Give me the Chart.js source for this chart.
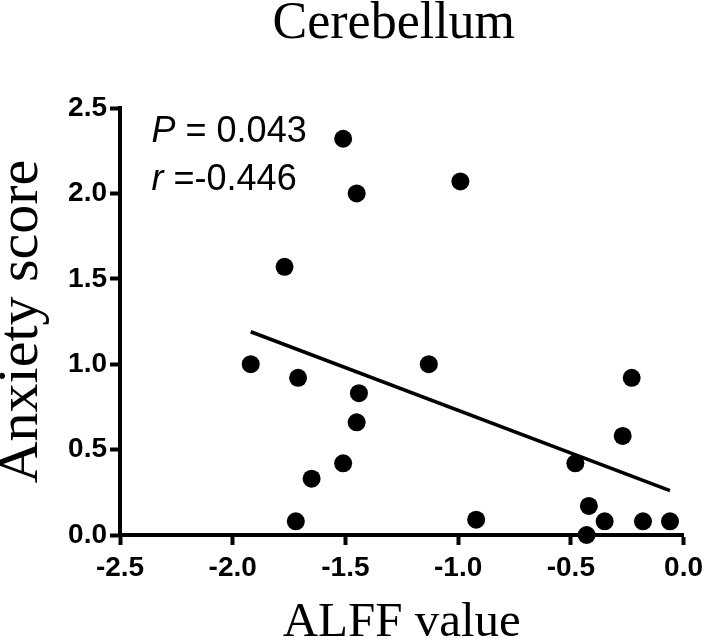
<!DOCTYPE html>
<html>
<head>
<meta charset="utf-8">
<script src="https://cdn.jsdelivr.net/npm/chart.js@4/dist/chart.umd.min.js"></script>
<style>
  html, body { margin: 0; padding: 0; background: #fff; }
  #wrap { width: 709px; height: 641px; position: relative; }
</style>
</head>
<body>
<div id="wrap"><canvas id="plot"></canvas></div>
<script>
// values
const alffValues = [-1.92, -1.77, -1.51, -1.45, -1.71, -1.44, -1.45, -1.51, -1.65, -1.72,
  -0.99, -1.13, -0.23, -0.27, -0.48, -0.42, -0.92, -0.35, -0.18, -0.06, -0.43];
const anxietyScores = [1.00, 1.57, 2.32, 2.00, 0.92, 0.83, 0.66, 0.42, 0.33, 0.08,
  2.07, 1.00, 0.92, 0.58, 0.42, 0.17, 0.09, 0.08, 0.08, 0.08, 0.00];
const fitX = [-1.92, -0.06];
const fitY = [1.19, 0.26];
const xTicks = [-2.5, -2.0, -1.5, -1.0, -0.5, 0.0];
const yTicks = [0.0, 0.5, 1.0, 1.5, 2.0, 2.5];
const statLines = [["P", " = 0.043"], ["r", " =-0.446"]];

const serif = "'Liberation Serif', 'Times New Roman', serif";
const sans = "'Liberation Sans', Arial, sans-serif";

const headline = {
  id: "headline",
  afterDraw(chart) {
    const { ctx, chartArea } = chart;
    ctx.save();
    ctx.fillStyle = "#000";
    ctx.font = `52px ${serif}`;
    ctx.textAlign = "center";
    ctx.textBaseline = "alphabetic";
    ctx.fillText("Cerebellum", (chartArea.left + chartArea.right) / 2 - 8, 38);

    // P and r annotation, anchored to the data scales
    const x0 = chart.scales.x.getPixelForValue(-2.36);
    const baselines = [2.30, 2.02].map((v) => chart.scales.y.getPixelForValue(v));
    ctx.textAlign = "left";
    statLines.forEach(([sym, rest], i) => {
      ctx.font = `italic 36px ${sans}`;
      ctx.fillText(sym, x0, baselines[i]);
      const w = ctx.measureText(sym).width;
      ctx.font = `36px ${sans}`;
      ctx.fillText(rest, x0 + w, baselines[i]);
    });
    ctx.restore();
  }
};

const axisLook = {
  border: { display: true, color: "#000", width: 4 },
  grid: { display: true, drawOnChartArea: false, drawTicks: true, tickLength: 10, tickWidth: 4, tickColor: "#000", color: "#000" }
};

new Chart(document.getElementById("plot"), {
  type: "scatter",
  data: {
    datasets: [
      {
        label: "subjects",
        data: alffValues.map((x, i) => ({ x, y: anxietyScores[i] })),
        backgroundColor: "#000",
        borderWidth: 0,
        pointRadius: 9,
        pointHoverRadius: 9,
        clip: false
      },
      {
        label: "fit",
        data: fitX.map((x, i) => ({ x, y: fitY[i] })),
        showLine: true,
        borderColor: "#000",
        borderWidth: 3.5,
        pointRadius: 0,
        clip: false
      }
    ]
  },
  plugins: [headline],
  options: {
    responsive: true,
    maintainAspectRatio: false,
    animation: false,
    events: [],
    layout: { padding: { left: 0, right: 20, top: 108, bottom: 0 } },
    plugins: { legend: { display: false }, tooltip: { enabled: false }, title: { display: false } },
    scales: {
      x: {
        type: "linear",
        min: -2.5,
        max: 0,
        afterBuildTicks: (s) => { s.ticks = xTicks.map((value) => ({ value })); },
        afterFit: (s) => { s.height = 106; },
        ...axisLook,
        ticks: {
          color: "#000",
          font: { family: sans, size: 28, weight: "bold" },
          padding: 6,
          maxRotation: 0,
          callback: (v) => Number(v).toFixed(1)
        },
        title: {
          display: true,
          text: "ALFF value",
          color: "#000",
          font: { family: serif, size: 49, lineHeight: 0.6 },
          padding: { top: 0, bottom: 3 }
        }
      },
      y: {
        type: "linear",
        min: 0,
        max: 2.5,
        afterBuildTicks: (s) => { s.ticks = yTicks.map((value) => ({ value })); },
        afterFit: (s) => { s.width = 120; },
        ...axisLook,
        ticks: {
          color: "#000",
          font: { family: sans, size: 28, weight: "bold" },
          padding: 3,
          callback: (v) => Number(v).toFixed(1)
        },
        title: {
          display: true,
          text: "Anxiety score",
          color: "#000",
          font: { family: serif, size: 58, lineHeight: 0.6 },
          padding: { top: 4, bottom: 0 }
        }
      }
    }
  }
});
</script>
</body>
</html>
